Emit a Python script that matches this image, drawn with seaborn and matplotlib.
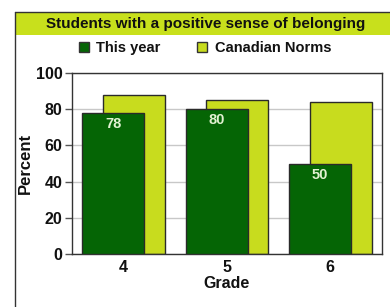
import matplotlib
matplotlib.use("Agg")
import matplotlib.pyplot as plt
from matplotlib.patches import Rectangle, Patch
from matplotlib.lines import Line2D
import seaborn as sns
import pandas as pd

title = "Students with a positive sense of belonging"
grades = ["4", "5", "6"]
series_names = ["This year", "Canadian Norms"]
this_year = [78, 80, 50]
canadian_norms = [88, 85, 84]
y_ticks = [0, 20, 40, 60, 80, 100]

dark = "#056505"
lime = "#c8dc1e"

sns.set_theme(style="white")
plt.rcParams["font.family"] = ["Liberation Sans", "DejaVu Sans"]
plt.rcParams["font.weight"] = "bold"

df = pd.DataFrame({
    "Grade": grades * 2,
    "Percent": this_year + canadian_norms,
    "Series": [series_names[0]] * len(grades) + [series_names[1]] * len(grades),
})

fig = plt.figure(figsize=(3.9, 3.07), dpi=100)
fig.patch.set_facecolor("white")

# outer frame and title band
fig.add_artist(Rectangle((15 / 390, 1 - 35 / 307), 1 - 15 / 390, 23 / 307,
                         transform=fig.transFigure, facecolor="#c8e01c",
                         edgecolor="none", zorder=0))
fig.add_artist(Line2D([15 / 390, 15 / 390], [0, 1 - 12 / 307],
                      transform=fig.transFigure, color="#333333", lw=1))
fig.add_artist(Line2D([15 / 390, 1], [1 - 12 / 307, 1 - 12 / 307],
                      transform=fig.transFigure, color="#333333", lw=1))
fig.text(206 / 390, 1 - 24 / 307, title, ha="center", va="center",
         fontsize=11, fontweight="bold", color="#111111")

ax = fig.add_axes([72 / 390, 1 - 254 / 307, 310 / 390, 181 / 307])
sns.barplot(data=df, x="Grade", y="Percent", hue="Series",
            hue_order=series_names, palette=[dark, lime], saturation=1,
            width=0.4, gap=-2, edgecolor="#2a2a2a", linewidth=1,
            legend=False, ax=ax)

for p in ax.containers[0]:
    p.set_zorder(3)
for p in ax.containers[1]:
    p.set_zorder(2)

for p, v in zip(ax.containers[0], this_year):
    ax.annotate(f"{v}", (p.get_x() + p.get_width() / 2, v),
                xytext=(0, -8), textcoords="offset points",
                ha="center", va="center", fontsize=10.5, fontweight="bold",
                color="#e2f2d2", zorder=5)

ax.set_ylim(0, 100)
ax.set_yticks(y_ticks)
ax.set_xlim(-0.5, 2.5)
ax.yaxis.grid(True, color="#c8c8c8", lw=1)
ax.set_axisbelow(True)
for s in ax.spines.values():
    s.set_color("#333333")
    s.set_linewidth(1)
ax.tick_params(axis="y", left=True, length=5, width=1, color="#555555",
               labelsize=11.5, pad=2, labelcolor="#111111")
ax.tick_params(axis="x", bottom=False, length=0, labelsize=11.5, pad=4,
               labelcolor="#111111")
for lab in ax.get_xticklabels() + ax.get_yticklabels():
    lab.set_fontweight("bold")
ax.set_xlabel("Grade", fontsize=11.5, fontweight="bold", labelpad=1, color="#111111")
ax.set_ylabel("Percent", fontsize=12, fontweight="bold", labelpad=2, color="#111111")

handles = [Patch(facecolor=dark, edgecolor="#333333", lw=1),
           Patch(facecolor=lime, edgecolor="#333333", lw=1)]
fig.legend(handles, series_names, loc="center", ncol=2,
           bbox_to_anchor=(205 / 390, 1 - 48 / 307), frameon=False,
           prop={"size": 10.5, "weight": "bold"}, handlelength=0.7,
           handleheight=0.7, handletextpad=0.5, columnspacing=2.5,
           labelcolor="#111111")

fig.savefig("out.png", dpi=100)
